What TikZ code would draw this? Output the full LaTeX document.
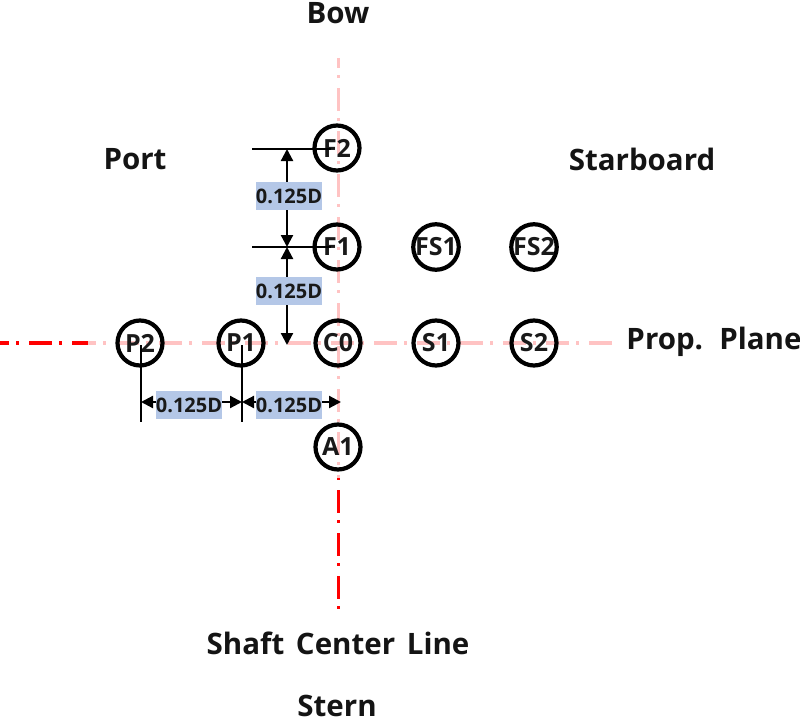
\documentclass[tikz,border=0pt]{standalone}
\usepackage{fontspec}
\setmainfont{Open Sans}
\usetikzlibrary{arrows.meta}
\definecolor{pinkline}{RGB}{255,195,195}
\definecolor{boxblue}{RGB}{180,199,231}
\tikzset{
  x=1pt,y=-1pt,
  probe/.style={circle,draw=black,line width=4.2pt,minimum size=45pt,inner sep=0pt,font=\fontsize{25}{25}\selectfont\bfseries,text=black!90},
  bigtext/.style={font=\fontsize{29.5}{29.5}\selectfont\bfseries,text=black!92,inner sep=0pt},
  dimbox/.style={fill=boxblue,minimum width=66pt,minimum height=28pt,inner sep=0pt,font=\fontsize{20}{20}\selectfont\bfseries,text=black!90},
  centerdash/.style={line width=3.1pt,dash pattern=on 23pt off 7pt on 3pt off 10pt},
  extline/.style={black,line width=2.2pt},
  dimarrow/.style={black,line width=2.2pt,{Triangle[length=12pt,width=12pt]}-{Triangle[length=12pt,width=12pt]}},
}
\begin{document}
\begin{tikzpicture}
\useasboundingbox (0,0) rectangle (800,725);
% free ends of the centre lines
\coordinate (hl) at (0,343);
\coordinate (hm) at (88,343);
\coordinate (hr) at (612,343);
\coordinate (vt) at (338.5,58);
\coordinate (vm) at (338.5,478);
\coordinate (vb) at (338.5,612);
\draw[centerdash,pinkline,dash phase=13pt] (vt) -- (vm);
\draw[centerdash,pinkline,dash phase=15pt] (hm) -- (hr);
\draw[centerdash,red,dash phase=14pt] (hl) -- (hm);
\draw[centerdash,red,dash phase=31pt] (vm) -- (vb);
% probes
\node[probe] (F2) at (337,148) {F2};
\node[probe] (F1) at (337,247) {F1};
\node[probe] (FS1) at (436,247) {FS1};
\node[probe] (FS2) at (534,247) {FS2};
\node[probe] (P2) at (140,343) {P2};
\node[probe] (P1) at (241,343) {P1};
\node[probe] (C0) at (338,343) {C0};
\node[probe] (S1) at (436,343) {S1};
\node[probe] (S2) at (534,343) {S2};
\node[probe] (A1) at (338,447) {A1};
% extension lines
\coordinate (f2l) at (252,149);
\coordinate (f1l) at (252,247);
\coordinate (f2r) at (331,149);
\coordinate (f1r) at (331,247);
\coordinate (p2t) at (141,345);
\coordinate (p1t) at (242,345);
\coordinate (p2b) at (141,422);
\coordinate (p1b) at (242,422);
\draw[extline] (f2l) -- (f2r);
\draw[extline] (f1l) -- (f1r);
\draw[extline] (p2t) -- (p2b);
\draw[extline] (p1t) -- (p1b);
% dimensions
\coordinate (d1) at (287,149);
\coordinate (d2) at (287,247);
\coordinate (d3) at (287,345);
\coordinate (d4) at (141,402);
\coordinate (d5) at (242,402);
\coordinate (d6) at (341,402);
\draw[dimarrow] (d1) -- (d2);
\draw[dimarrow] (d2) -- (d3);
\draw[dimarrow] (d4) -- (d5);
\draw[dimarrow] (d5) -- (d6);
\node[dimbox] (lab1) at (289,196) {0.125D};
\node[dimbox] (lab2) at (289,291) {0.125D};
\node[dimbox] (lab3) at (189,405) {0.125D};
\node[dimbox] (lab4) at (289,405) {0.125D};
% titles
\node[bigtext] (bow) at (338,13) {Bow};
\node[bigtext] (port) at (135,159) {Port};
\node[bigtext] (star) at (642,159) {Starboard};
\node[bigtext] (prop) at (714,342) {Prop.\hspace{6pt} Plane};
\node[bigtext] (shaft) at (338,643) {Shaft\hspace{4pt} Center\hspace{4pt} Line};
\node[bigtext] (stern) at (337,706) {Stern};
\end{tikzpicture}
\end{document}
